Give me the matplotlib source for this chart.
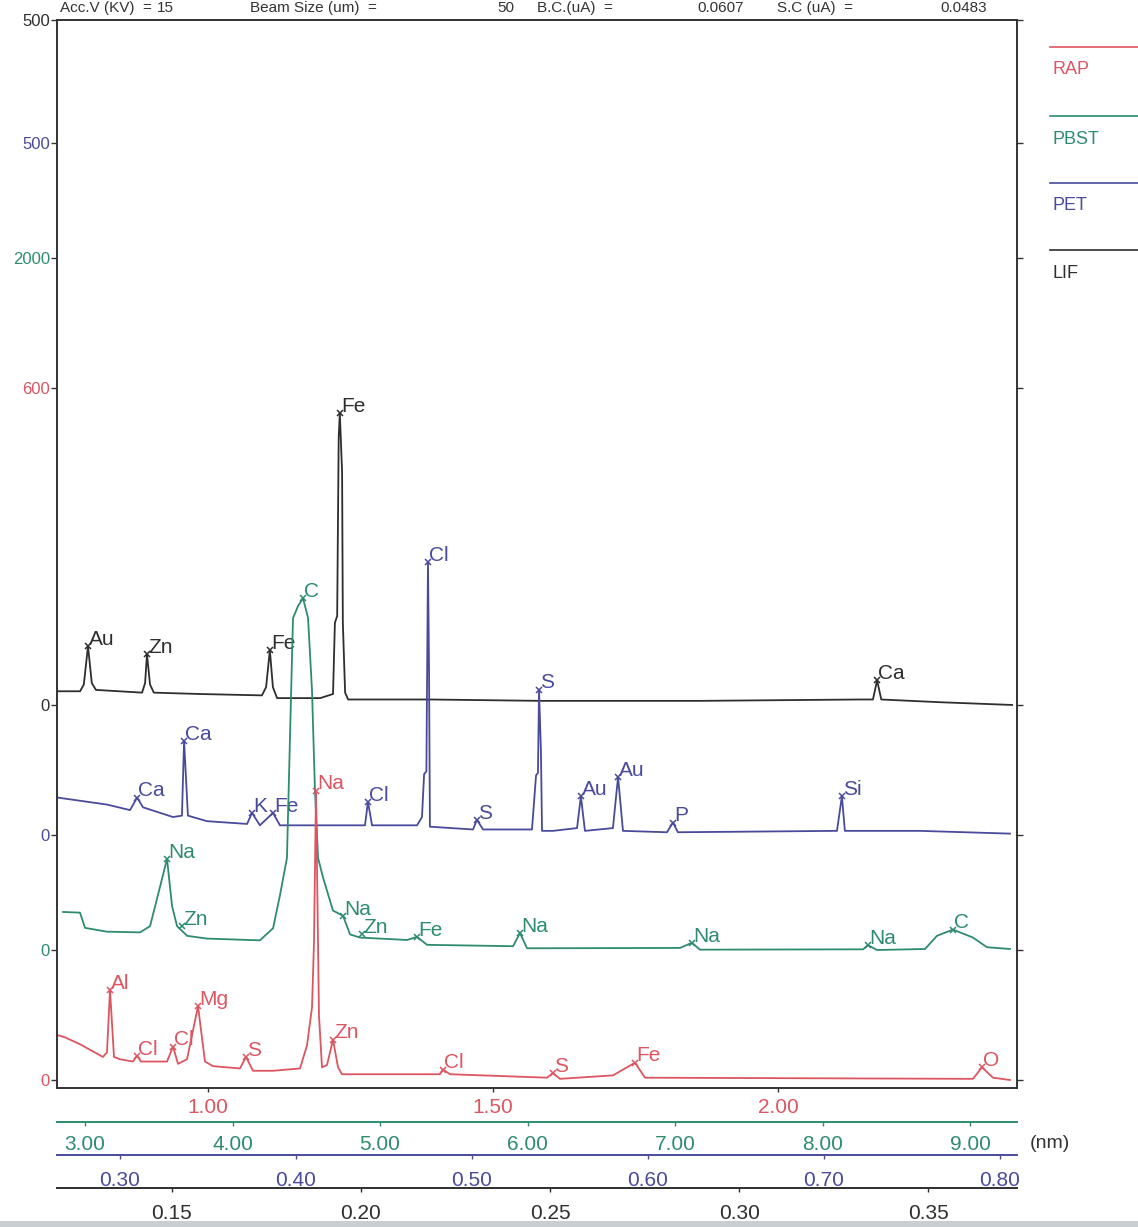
import numpy as np
import matplotlib.pyplot as plt
from matplotlib.lines import Line2D
from matplotlib.patches import Rectangle

# WDS spectrum, four crystals stacked with their own offsets and scales
plt.rcParams['font.family'] = ['Liberation Sans', 'DejaVu Sans']

# --- LIF (black) : wavelength (nm) / counts
lif_nm = [0.1196, 0.1257, 0.1267, 0.1278, 0.1288, 0.1299, 0.1421, 0.1429, 0.1434, 0.1442,
          0.1452, 0.1574, 0.1738, 0.1749, 0.1759, 0.1767, 0.1778, 0.1892, 0.1926, 0.1931,
          0.1937, 0.1941, 0.1944, 0.1950, 0.1952, 0.1958, 0.1966, 0.2183, 0.2474, 0.2897,
          0.3320, 0.3354, 0.3365, 0.3376, 0.3532, 0.3722]
lif_cnt = [10, 10, 15, 43, 16, 11, 9, 16, 37, 15,
           9, 8, 7, 13, 40, 13, 5, 5, 8, 60,
           65, 195, 213, 170, 60, 9, 4, 4, 3, 3,
           4, 4, 18, 4, 2, 0]
lif_pk = ['Au', 'Zn', 'Fe', 'Fe', 'Ca']
lif_pk_nm = [0.1278, 0.1434, 0.1759, 0.1944, 0.3365]
lif_pk_cnt = [43, 37, 40, 213, 18]

# --- PET (blue)
pet_nm = [0.2648, 0.2926, 0.3057, 0.3097, 0.3131, 0.3301, 0.3352, 0.3364, 0.3386, 0.3494,
          0.3722, 0.3750, 0.3795, 0.3869, 0.3909, 0.4063, 0.4392, 0.4409, 0.4432, 0.4688,
          0.4716, 0.4728, 0.4741, 0.4750, 0.4756, 0.4761, 0.5006, 0.5028, 0.5063, 0.5341,
          0.5364, 0.5375, 0.5381, 0.5392, 0.5398, 0.5460, 0.5597, 0.5619, 0.5642, 0.5801,
          0.5830, 0.5858, 0.6108, 0.6142, 0.6170, 0.7074, 0.7102, 0.7119, 0.7545, 0.8057]
pet_cnt = [27, 22, 18, 27, 20, 13, 14, 68, 14, 10,
           8, 16, 7, 16, 7, 7, 7, 24, 7, 7,
           13, 44, 46, 197, 120, 6, 4, 11, 4, 4,
           43, 45, 105, 60, 3, 3, 5, 28, 3, 5,
           42, 3, 2, 9, 2, 3, 28, 3, 3, 1]
pet_pk = ['Ca', 'Ca', 'K', 'Fe', 'Cl', 'Cl', 'S', 'S', 'Au', 'Au', 'P', 'Si']
pet_pk_nm = [0.3097, 0.3364, 0.3750, 0.3869, 0.4409, 0.4750, 0.5028, 0.5381, 0.5619, 0.5830, 0.6142, 0.7102]
pet_pk_cnt = [27, 68, 16, 16, 24, 197, 11, 105, 28, 42, 9, 28]

# --- PBST (green)
pbst_nm = [2.851, 2.966, 3.000, 3.149, 3.373, 3.441, 3.556, 3.590, 3.624, 3.692,
           3.827, 4.186, 4.275, 4.322, 4.369, 4.410, 4.444, 4.478, 4.512, 4.539,
           4.559, 4.580, 4.614, 4.681, 4.749, 4.797, 4.864, 5.183, 5.251, 5.319,
           5.902, 5.949, 5.997, 7.034, 7.115, 7.169, 8.275, 8.308, 8.369, 8.695,
           8.776, 8.885, 9.020, 9.115, 9.271]
pbst_cnt = [110, 108, 64, 53, 51, 69, 263, 127, 69, 41,
            33, 28, 63, 159, 266, 959, 994, 1017, 960, 749,
            460, 266, 209, 114, 99, 45, 36, 29, 38, 15,
            11, 49, 5, 6, 21, 1, 2, 14, 0, 3,
            41, 59, 36, 8, 3]
pbst_pk = ['Na', 'Zn', 'C', 'Na', 'Zn', 'Fe', 'Na', 'Na', 'Na', 'C']
pbst_pk_nm = [3.556, 3.658, 4.478, 4.749, 4.878, 5.251, 5.949, 7.115, 8.308, 8.885]
pbst_pk_cnt = [263, 69, 1017, 99, 45, 38, 49, 21, 14, 59]

# --- RAP (red)
rap_nm = [0.7351, 0.7491, 0.7754, 0.8158, 0.8228, 0.8281, 0.8351, 0.8456, 0.8684, 0.8754,
          0.8825, 0.9281, 0.9386, 0.9474, 0.9632, 0.9825, 0.9947, 1.0088, 1.0561, 1.0667,
          1.0789, 1.1140, 1.1614, 1.1737, 1.1825, 1.1860, 1.1895, 1.1930, 1.1947, 1.2000,
          1.2088, 1.2193, 1.2281, 1.2351, 1.4070, 1.4123, 1.4246, 1.5947, 1.6053, 1.6175,
          1.7105, 1.7491, 1.7667, 2.3421, 2.3579, 2.3772, 2.4070]
rap_cnt = [39, 37, 31, 20, 24, 78, 20, 18, 16, 21,
           16, 16, 29, 14, 18, 64, 16, 12, 10, 20,
           8, 8, 10, 30, 63, 120, 251, 120, 56, 11,
           13, 35, 11, 5, 5, 9, 5, 2, 6, 1,
           4, 15, 2, 1, 11, 2, 0]
rap_pk = ['Al', 'Cl', 'Cl', 'Mg', 'S', 'Na', 'Zn', 'Cl', 'S', 'Fe', 'O']
rap_pk_nm = [0.8281, 0.8754, 0.9386, 0.9825, 1.0667, 1.1895, 1.2193, 1.4123, 1.6053, 1.7491, 2.3579]
rap_pk_cnt = [78, 21, 29, 64, 20, 251, 35, 9, 6, 15, 11]

# axis scales
rap_ticks = [1.0, 1.5, 2.0]
pbst_ticks = [3, 4, 5, 6, 7, 8, 9]
pet_ticks = [0.3, 0.4, 0.5, 0.6, 0.7, 0.8]
lif_ticks = [0.15, 0.20, 0.25, 0.30, 0.35]

c_rap = '#dc5560'
c_pbst = '#2e8c6c'
c_pet = '#4a4a9c'
c_lif = '#2e2e2e'

W, H = 1138, 1227
fig = plt.figure(figsize=(W / 100, H / 100), dpi=100)
box = [57 / W, 139 / H, 960 / W, 1068 / H]

specs = [
    # name, color, x, y, peaks, xlim, ylim, yticks, xticks, fmt, offset(pt), pad
    ('LIF', c_lif, lif_nm, lif_cnt, (lif_pk, lif_pk_nm, lif_pk_cnt),
     (0.1196, 0.3735), (-279.6, 500), [0, 500], lif_ticks, '{:.2f}', 72, 8.5),
    ('PET', c_pet, pet_nm, pet_cnt, (pet_pk, pet_pk_nm, pet_pk_cnt),
     (0.2642, 0.8097), (-182.8, 588.9), [0, 500], pet_ticks, '{:.2f}', 48, 9),
    ('PBST', c_pbst, pbst_nm, pbst_cnt, (pbst_pk, pbst_pk_nm, pbst_pk_cnt),
     (2.810, 9.3186), (-398.8, 2687.9), [0, 2000], pbst_ticks, '{:.2f}', 24.5, 6.5),
    ('RAP', c_rap, rap_nm, rap_cnt, (rap_pk, rap_pk_nm, rap_pk_cnt),
     (0.7351, 2.4193), (-6.94, 919.1), [0, 600], rap_ticks, '{:.2f}', 0, 4.5),
]

for z, (name, col, xs, ys, pk, xlim, ylim, yt, xt, fmt, off, pad) in enumerate(specs):
    ax = fig.add_axes(box, zorder=z + 1)
    ax.patch.set_visible(False)
    ax.plot(xs, ys, color=col, lw=1.3)
    for lab, px, py in zip(*pk):
        ax.plot(px, py, marker='x', ms=5, mew=1.1, color=col)
        ax.annotate(lab, (px, py), xytext=(1, -2), textcoords='offset points',
                    ha='left', va='bottom', color=col, fontsize=15)
    ax.set_xlim(*xlim)
    ax.set_ylim(*ylim)
    ax.set_yticks(yt)
    ax.set_yticklabels([str(v) for v in yt])
    ax.tick_params(axis='y', direction='out', length=4, width=1, color='#333333',
                   labelcolor=col, labelsize=12, pad=1, right=True, labelright=False)
    ax.set_xticks(xt)
    ax.set_xticklabels([fmt.format(v) for v in xt])
    ax.tick_params(axis='x', direction='out', length=3, width=1, color=col,
                   labelcolor=col, labelsize=15, pad=pad)
    if name == 'RAP':
        for s in ax.spines.values():
            s.set_color('#333333')
            s.set_linewidth(1.4)
        ax.tick_params(axis='x', color='#333333')
    else:
        for s in ['left', 'top', 'right']:
            ax.spines[s].set_visible(False)
        ax.spines['bottom'].set_position(('outward', off))
        ax.spines['bottom'].set_color(col)
        ax.spines['bottom'].set_linewidth(1.4)

fig.text(1030 / W, 1 - 1143 / H, '(nm)', ha='left', va='center', fontsize=14, color='#333333')

# legend on the right
legend_items = [('RAP', c_rap, 47), ('PBST', c_pbst, 116), ('PET', c_pet, 183), ('LIF', c_lif, 250)]
for lab, col, yy in legend_items:
    fig.add_artist(Line2D([1050 / W, 1.0], [1 - yy / H, 1 - yy / H], color=col, lw=1.2))
    fig.text(1052 / W, 1 - (yy + 23) / H, lab, color=col, fontsize=13, ha='left', va='center')

# header line along the top edge
header_parts = [('Acc.V (KV)  =', 60), ('15', 157), ('Beam Size (um)  =', 250),
                ('50', 497), ('B.C.(uA)  =', 537), ('0.0607', 697), ('S.C (uA)  =', 777),
                ('0.0483', 940)]
for txt, xx in header_parts:
    fig.text(xx / W, 1 - 1 / H, txt, ha='left', va='top', fontsize=11, color='#333333')

fig.add_artist(Rectangle((0, 0), 1, 6 / H, transform=fig.transFigure,
                         color='#c9ced3', lw=0))

fig.savefig('out.png', dpi=100)
